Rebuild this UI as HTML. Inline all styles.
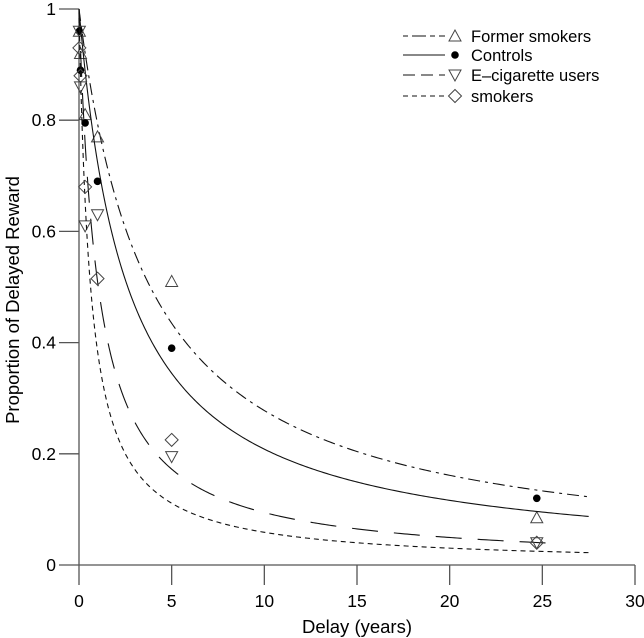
<!DOCTYPE html>
<html><head><meta charset="utf-8"><style>
body{margin:0;background:#fff}
svg{display:block;font-family:"Liberation Sans",sans-serif}
</style></head><body>
<svg id="chart" width="644" height="638" viewBox="0 0 644 638"></svg>
<script>
const groups=["Former smokers","Controls","E\u2013cigarette users","smokers"];
const kValues=[0.26,0.38,0.96,1.6];
const curveEnd=[27.5,27.5,26,27.5];
const delays=[0.02,0.08,0.33,1,5,24.7];
const formerVals=[0.96,0.92,0.81,0.77,0.51,0.085];
const controlVals=[0.96,0.89,0.795,0.69,0.39,0.12];
const ecigVals=[0.96,0.86,0.61,0.63,0.195,0.04];
const smokerVals=[0.93,0.88,0.68,0.515,0.225,0.04];
const xTicks=[0,5,10,15,20,25,30];
const yTicks=[0,0.2,0.4,0.6,0.8,1];
const yTickLabels=["0","0.2","0.4","0.6","0.8","1"];
const seriesVals=[formerVals,controlVals,ecigVals,smokerVals];
const dashes=["12,5,3,5","","26,16","5,4"];
const markers=["tri","dot","tridown","diamond"];
const NS="http://www.w3.org/2000/svg";
const svg=document.getElementById("chart");
const X=v=>79+v*556/30, Y=v=>565-v*556;
function mk(t,a,p){const e=document.createElementNS(NS,t);for(const k in a)e.setAttribute(k,a[k]);(p||svg).appendChild(e);return e;}
let ax=mk("g",{});
mk("line",{x1:79,y1:565,x2:X(30),y2:565,stroke:"#555","stroke-width":1.3},ax);
mk("line",{x1:79,y1:Y(1),x2:79,y2:565,stroke:"#555","stroke-width":1.3},ax);
xTicks.forEach(t=>{mk("line",{x1:X(t),y1:565,x2:X(t),y2:585,stroke:"#555","stroke-width":1.3},ax);
 const tx=mk("text",{x:X(t),y:607,"text-anchor":"middle","font-size":17.5},ax);tx.textContent=t;
 });
yTicks.forEach((t,i)=>{mk("line",{x1:59,y1:Y(t),x2:79,y2:Y(t),stroke:"#555","stroke-width":1.3},ax);
 const tx=mk("text",{x:56,y:Y(t)+6,"text-anchor":"end","font-size":17.5},ax);tx.textContent=yTickLabels[i];
 });
let xt=mk("text",{x:357,y:633,"text-anchor":"middle","font-size":18.5});xt.textContent="Delay (years)";

let yt=mk("text",{x:0,y:0,"text-anchor":"middle","font-size":18.5,transform:"translate(19,300) rotate(-90)"});yt.textContent="Proportion of Delayed Reward";

function marker(type,cx,cy,g){
 if(type=="dot")return mk("circle",{cx,cy,r:3.8,fill:"#000"},g);
 if(type=="tri")return mk("polygon",{points:`${cx},${cy-6} ${cx-6},${cy+5} ${cx+6},${cy+5}`,fill:"none",stroke:"#444","stroke-width":1},g);
 if(type=="tridown")return mk("polygon",{points:`${cx},${cy+6} ${cx-6},${cy-5} ${cx+6},${cy-5}`,fill:"none",stroke:"#444","stroke-width":1},g);
 return mk("polygon",{points:`${cx},${cy-6.5} ${cx+6.5},${cy} ${cx},${cy+6.5} ${cx-6.5},${cy}`,fill:"none",stroke:"#444","stroke-width":1},g);
}
groups.forEach((name,s)=>{
 const g=mk("g",{});
 let d="";for(let i=0;i<=400;i++){const t=Math.pow(i/400,2.5)*curveEnd[s];const v=1/(1+kValues[s]*t);d+=(i?"L":"M")+X(t).toFixed(2)+","+Y(v).toFixed(2);}
 const p=mk("path",{d,fill:"none",stroke:"#111","stroke-width":1.1,"stroke-dasharray":dashes[s]},g);
 
 seriesVals[s].forEach((v,i)=>{const m=marker(markers[s],X(delays[i]),Y(v),g);
  });
 const ly=[36,55,75,96][s];
 const lg=mk("g",{});
 mk("line",{x1:403,y1:ly,x2:445,y2:ly,stroke:"#111","stroke-width":1.1,"stroke-dasharray":s==2?"12,6":(s==0?"5,4,14,4":dashes[s])},lg);
 marker(markers[s],455,ly,lg);
 const t=mk("text",{x:471,y:ly+6,"font-size":16.5},lg);t.textContent=name;
});
</script>
</body></html>
